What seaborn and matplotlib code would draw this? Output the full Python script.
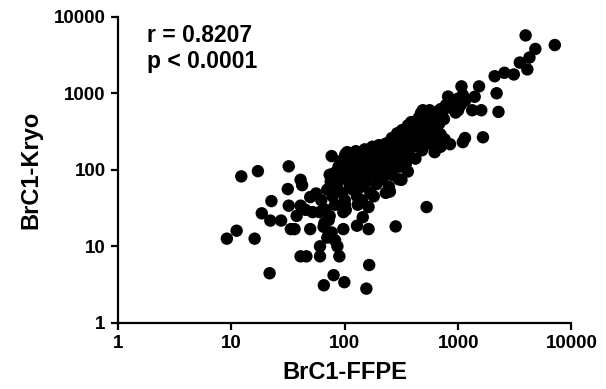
import numpy as np
import pandas as pd
import matplotlib
matplotlib.use("Agg")
import matplotlib.pyplot as plt
import seaborn as sns

# values (log-log scatter, FFPE vs Kryo)
outlier_x = [9.1, 11.1, 12.2, 16, 17.1, 18.5, 22.5, 22, 21.7, 27.4, 32, 31.4, 32, 33.4,
             40.7, 42, 40.7, 37.6, 36, 45.8, 40.7, 49.5, 49.5, 55.8, 60.4, 60.4, 65.3,
             76.5, 73.5, 79.6, 89.5, 86, 76.5, 73.5, 97, 97, 99, 155, 164, 162, 128, 162,
             144, 281, 527, 250, 316, 101, 66, 70, 82, 60, 52, 45]
outlier_y = [12.6, 16, 82, 12.6, 96, 27, 39, 21.7, 4.45, 21.7, 111, 56, 34, 16.8,
             74, 63, 34, 25, 16.8, 7.4, 7.4, 16.8, 44, 49, 7.4, 10, 3.1,
             151, 86, 4.2, 7.4, 10, 15.2, 25, 28, 16.8, 3.4, 2.8, 5.7, 16.8, 18.6, 32.6,
             24, 18.2, 32.6, 52, 74, 159, 20, 13, 12, 28, 28, 30]

cluster_x = [62, 70, 75, 78, 80, 68, 72, 65, 85, 88, 90, 95, 92, 98, 100, 82,
             105, 108, 110, 112, 115, 118, 120, 125, 128, 102, 122,
             132, 135, 138, 140, 145, 150, 155, 160, 165, 168, 142, 158,
             172, 175, 180, 185, 190, 195, 200, 205, 210, 215, 218,
             225, 230, 240, 250, 255, 260, 270, 280, 290, 300, 245, 265,
             310, 320, 330, 340, 350, 360, 375, 385, 395, 305, 345,
             410, 420, 440, 450, 470, 490, 510, 530, 545, 470,
             560, 580, 600, 620, 650, 680, 700, 720, 750, 780, 760, 640,
             850, 900, 950, 1000, 1050, 1100, 1150, 1000,
             300, 360, 420, 480, 560, 620, 700, 600, 100, 130, 180, 230,
             105, 125, 150, 175, 200, 230, 260, 290, 320, 360, 400, 450, 500, 560,
             110, 140, 170, 210, 250, 300, 350, 400, 450, 520, 620, 720, 850, 940]
cluster_y = [40, 55, 70, 45, 90, 30, 22, 18, 60, 110, 75, 50, 130, 85, 40, 35,
             150, 95, 65, 120, 80, 55, 140, 100, 45, 30, 70,
             160, 110, 85, 60, 130, 95, 70, 150, 115, 50, 40, 170,
             130, 90, 175, 110, 65, 140, 95, 180, 120, 75, 155,
             210, 140, 100, 170, 230, 125, 190, 150, 240, 180, 60, 85,
             260, 200, 150, 290, 230, 170, 320, 260, 200, 110, 120,
             350, 280, 220, 400, 330, 260, 450, 380, 300, 550,
             500, 420, 350, 560, 480, 400, 620, 540, 460, 700, 250, 330,
             650, 780, 560, 850, 700, 950, 800, 600,
             75, 95, 140, 180, 220, 170, 200, 240, 35, 35, 45, 50,
             170, 175, 185, 200, 210, 220, 260, 300, 330, 380, 420, 480, 520, 600,
             110, 120, 140, 160, 200, 230, 280, 320, 350, 420, 500, 580, 720, 800]

upper_x = [1656, 848, 1100, 1150, 1330, 1600, 2270, 2186, 815, 1070, 1530, 1400,
           2100, 2560, 3100, 3500, 4080, 4260, 3940, 4800, 7130, 488, 385, 700, 600]
upper_y = [266, 216, 230, 260, 600, 600, 571, 1000, 906, 1230, 1230, 900,
           1670, 1850, 1760, 2520, 2050, 2930, 5700, 3790, 4270, 600, 420, 290, 240]

ffpe = outlier_x + cluster_x + upper_x
kryo = outlier_y + cluster_y + upper_y
df = pd.DataFrame({"BrC1-FFPE": ffpe, "BrC1-Kryo": kryo})

tick_vals = [1, 10, 100, 1000, 10000]
tick_labels = ["1", "10", "100", "1000", "10000"]

sns.set_style("ticks")
plt.rcParams["font.family"] = ["Liberation Sans", "DejaVu Sans"]
plt.rcParams["font.weight"] = "bold"
plt.rcParams["text.color"] = "black"
plt.rcParams["axes.labelcolor"] = "black"

fig = plt.figure(figsize=(6.06, 3.89), dpi=100)
ax = fig.add_axes([0.195, 0.17, 0.748, 0.787])

sns.scatterplot(data=df, x="BrC1-FFPE", y="BrC1-Kryo", color="black",
                edgecolor="none", s=80, ax=ax, clip_on=False)

ax.set_xscale("log")
ax.set_yscale("log")
ax.set_xlim(1, 10000)
ax.set_ylim(1, 10000)
ax.set_xticks(tick_vals)
ax.set_xticklabels(tick_labels)
ax.set_yticks(tick_vals)
ax.set_yticklabels(tick_labels)
ax.minorticks_off()
ax.tick_params(axis="both", which="major", length=5, width=1.6, labelsize=13.5,
               pad=4, colors="black")
for lab in ax.get_xticklabels() + ax.get_yticklabels():
    lab.set_fontweight("bold")

for side in ["top", "right"]:
    ax.spines[side].set_visible(False)
for side in ["left", "bottom"]:
    ax.spines[side].set_linewidth(1.6)
    ax.spines[side].set_color("black")

ax.set_xlabel("BrC1-FFPE", fontsize=17, fontweight="bold", labelpad=6)
ax.set_ylabel("BrC1-Kryo", fontsize=17, fontweight="bold", labelpad=8)

ax.text(0.063, 0.975, "r = 0.8207\np < 0.0001", transform=ax.transAxes,
        fontsize=16.5, fontweight="bold", va="top", ha="left", linespacing=1.15)

fig.savefig("out.png", dpi=100)
